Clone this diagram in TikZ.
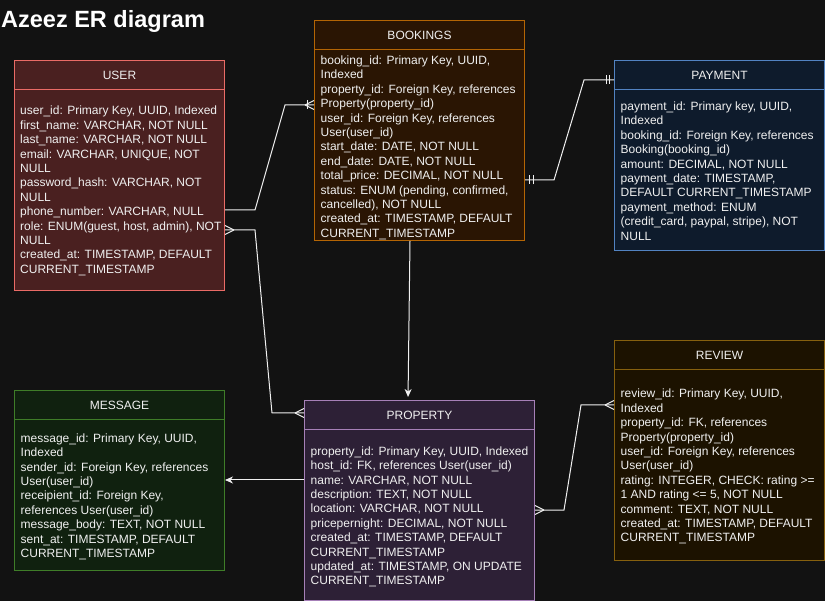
\documentclass[tikz,border=0pt]{standalone}
\usepackage{fontspec}
\setmainfont{Liberation Sans}
\usetikzlibrary{arrows.meta}
\definecolor{bg}{HTML}{121212}
\definecolor{fg}{HTML}{F0F0F0}
\definecolor{userfill}{HTML}{4A2020}
\definecolor{userline}{HTML}{EA6B66}
\definecolor{bookfill}{HTML}{2A1503}
\definecolor{bookline}{HTML}{B46504}
\definecolor{payfill}{HTML}{0E1B2C}
\definecolor{payline}{HTML}{5283C2}
\definecolor{revfill}{HTML}{1C1200}
\definecolor{revline}{HTML}{86600E}
\definecolor{msgfill}{HTML}{10210F}
\definecolor{msgline}{HTML}{3F7D28}
\definecolor{propfill}{HTML}{2D2036}
\definecolor{propline}{HTML}{A680B8}
\tikzset{
  ebox/.style={anchor=north west, inner sep=0pt, line width=1pt, minimum width=210pt},
  hdr/.style={text=fg, inner sep=0pt, font=\fontsize{12}{14.4}\selectfont},
  body/.style={anchor=base west, inner sep=0pt, align=left, text=fg, font=\fontsize{12}{14.4}\selectfont},
  conn/.style={draw=fg, line width=1pt},
  arr/.style={conn, -{Stealth[length=8pt, width=7pt, inset=2.5pt]}}
}
\begin{document}
\begin{tikzpicture}[x=1pt, y=-1pt]
\fill[bg] (0,0) rectangle (825,601);
\useasboundingbox (0,0) rectangle (825,601);

\node[font=\fontsize{23.5}{28}\selectfont\bfseries, text=white, anchor=base west, inner sep=0pt] (title) at (1,28) {Azeez ER diagram};

% USER
\node[ebox, draw=userline, fill=userfill, minimum height=230pt] (user) at (14,60) {};
\draw[userline, line width=1pt] ([yshift=-30pt]user.north west) -- ([yshift=-30pt]user.north east);
\node[hdr] (userh) at ([yshift=-15pt]user.north) {USER};
\node[body] (userb) at (20,273.4) {user\_id: Primary Key, UUID, Indexed\\first\_name: VARCHAR, NOT NULL\\last\_name: VARCHAR, NOT NULL\\email: VARCHAR, UNIQUE, NOT\\NULL\\password\_hash: VARCHAR, NOT\\NULL\\phone\_number: VARCHAR, NULL\\role: ENUM(guest, host, admin), NOT\\NULL\\created\_at: TIMESTAMP, DEFAULT\\CURRENT\_TIMESTAMP};

% BOOKINGS
\node[ebox, draw=bookline, fill=bookfill, minimum height=220pt] (bookings) at (314,20) {};
\draw[bookline, line width=1pt] ([yshift=-30pt]bookings.north west) -- ([yshift=-30pt]bookings.north east);
\node[hdr] (bookingsh) at ([yshift=-15pt]bookings.north) {BOOKINGS};
\node[body] (bookingsb) at (320.5,237.3) {booking\_id: Primary Key, UUID,\\Indexed\\property\_id: Foreign Key, references\\Property(property\_id)\\user\_id: Foreign Key, references\\User(user\_id)\\start\_date: DATE, NOT NULL\\end\_date: DATE, NOT NULL\\total\_price: DECIMAL, NOT NULL\\status: ENUM (pending, confirmed,\\cancelled), NOT NULL\\created\_at: TIMESTAMP, DEFAULT\\CURRENT\_TIMESTAMP};

% PAYMENT
\node[ebox, draw=payline, fill=payfill, minimum height=190pt] (payment) at (614,60) {};
\draw[payline, line width=1pt] ([yshift=-30pt]payment.north west) -- ([yshift=-30pt]payment.north east);
\node[hdr] (paymenth) at ([yshift=-15pt]payment.north) {PAYMENT};
\node[body] (paymentb) at (620.5,240.1) {payment\_id: Primary key, UUID,\\Indexed\\booking\_id: Foreign Key, references\\Booking(booking\_id)\\amount: DECIMAL, NOT NULL\\payment\_date: TIMESTAMP,\\DEFAULT CURRENT\_TIMESTAMP\\payment\_method: ENUM\\(credit\_card, paypal, stripe), NOT\\NULL};

% REVIEW
\node[ebox, draw=revline, fill=revfill, minimum height=220pt] (review) at (614,340) {};
\draw[revline, line width=1pt] ([yshift=-30pt]review.north west) -- ([yshift=-30pt]review.north east);
\node[hdr] (reviewh) at ([yshift=-15pt]review.north) {REVIEW};
\node[body] (reviewb) at (620.5,541.8) {review\_id: Primary Key, UUID,\\Indexed\\property\_id: FK, references\\Property(property\_id)\\user\_id: Foreign Key, references\\User(user\_id)\\rating: INTEGER, CHECK: rating >=\\1 AND rating <= 5, NOT NULL\\comment: TEXT, NOT NULL\\created\_at: TIMESTAMP, DEFAULT\\CURRENT\_TIMESTAMP};

% MESSAGE
\node[ebox, draw=msgline, fill=msgfill, minimum height=180pt] (message) at (14,390) {};
\draw[msgline, line width=1pt] ([yshift=-30pt]message.north west) -- ([yshift=-30pt]message.north east);
\node[hdr] (messageh) at ([yshift=-15pt]message.north) {MESSAGE};
\node[body] (messageb) at (20.5,557.4) {message\_id: Primary Key, UUID,\\Indexed\\sender\_id: Foreign Key, references\\User(user\_id)\\receipient\_id: Foreign Key,\\references User(user\_id)\\message\_body: TEXT, NOT NULL\\sent\_at: TIMESTAMP, DEFAULT\\CURRENT\_TIMESTAMP};

% PROPERTY
\node[ebox, draw=propline, fill=propfill, minimum width=230pt, minimum height=200pt] (property) at (304,400) {};
\draw[propline, line width=1pt] ([yshift=-30pt]property.north west) -- ([yshift=-30pt]property.north east);
\node[hdr] (propertyh) at ([yshift=-15pt]property.north) {PROPERTY};
\node[body] (propertyb) at (310.5,584.8) {property\_id: Primary Key, UUID, Indexed\\host\_id: FK, references User(user\_id)\\name: VARCHAR, NOT NULL\\description: TEXT, NOT NULL\\location: VARCHAR, NOT NULL\\pricepernight: DECIMAL, NOT NULL\\created\_at: TIMESTAMP, DEFAULT\\CURRENT\_TIMESTAMP\\updated\_at: TIMESTAMP, ON UPDATE\\CURRENT\_TIMESTAMP};

% connector end points
\coordinate (u1) at (user.east |- 0,210);
\coordinate (b1) at (bookings.west |- 0,105);
\coordinate (u2) at (user.east |- 0,230);
\coordinate (p2) at (property.west |- 0,413);
\coordinate (b3) at (bookings.east |- 0,180);
\coordinate (pay3) at (payment.west |- 0,80);
\coordinate (b4) at (bookings.south -| 410,0);
\coordinate (p4) at (property.north -| 408,0);
\coordinate (p5) at (property.west |- 0,480);
\coordinate (m5) at (message.east |- 0,480);
\coordinate (p6) at (property.east |- 0,510);
\coordinate (r6) at (review.west |- 0,405);

% USER -> BOOKINGS
\draw[conn] (u1) -- (255,210) -- (285,105) -- (b1);
\draw[conn] (b1) ++(-9,0) -- ++(9,4.5) ++(-9,-4.5) -- ++(9,-4.5);
\draw[conn] (b1) ++(-7,-4.5) -- ++(0,9);

% USER -> PROPERTY
\draw[conn] (u2) -- (255,230) -- (272,413) -- (p2);
\draw[conn] (u2) ++(9,0) -- ++(-9,4.5) ++(9,-4.5) -- ++(-9,-4.5);
\draw[conn] (p2) ++(-9,0) -- ++(9,4.5) ++(-9,-4.5) -- ++(9,-4.5);

% BOOKINGS -> PAYMENT
\draw[conn] (b3) -- (554,180) -- (584,80) -- (pay3);
\draw[conn] (b3) ++(4.5,-4.5) -- ++(0,9) ++(3.5,0) -- ++(0,-9);
\draw[conn] (pay3) ++(-4.5,-4.5) -- ++(0,9) ++(-3.5,0) -- ++(0,-9);

% BOOKINGS -> PROPERTY
\draw[arr, shorten >=3pt] (b4) -- (p4);

% PROPERTY -> MESSAGE
\draw[arr] (p5) -- (m5);

% PROPERTY -> REVIEW
\draw[conn] (p6) -- (564,510) -- (581,405) -- (r6);
\draw[conn] (p6) ++(9,0) -- ++(-9,4.5) ++(9,-4.5) -- ++(-9,-4.5);
\draw[conn] (r6) ++(-9,0) -- ++(9,4.5) ++(-9,-4.5) -- ++(9,-4.5);
\end{tikzpicture}
\end{document}
